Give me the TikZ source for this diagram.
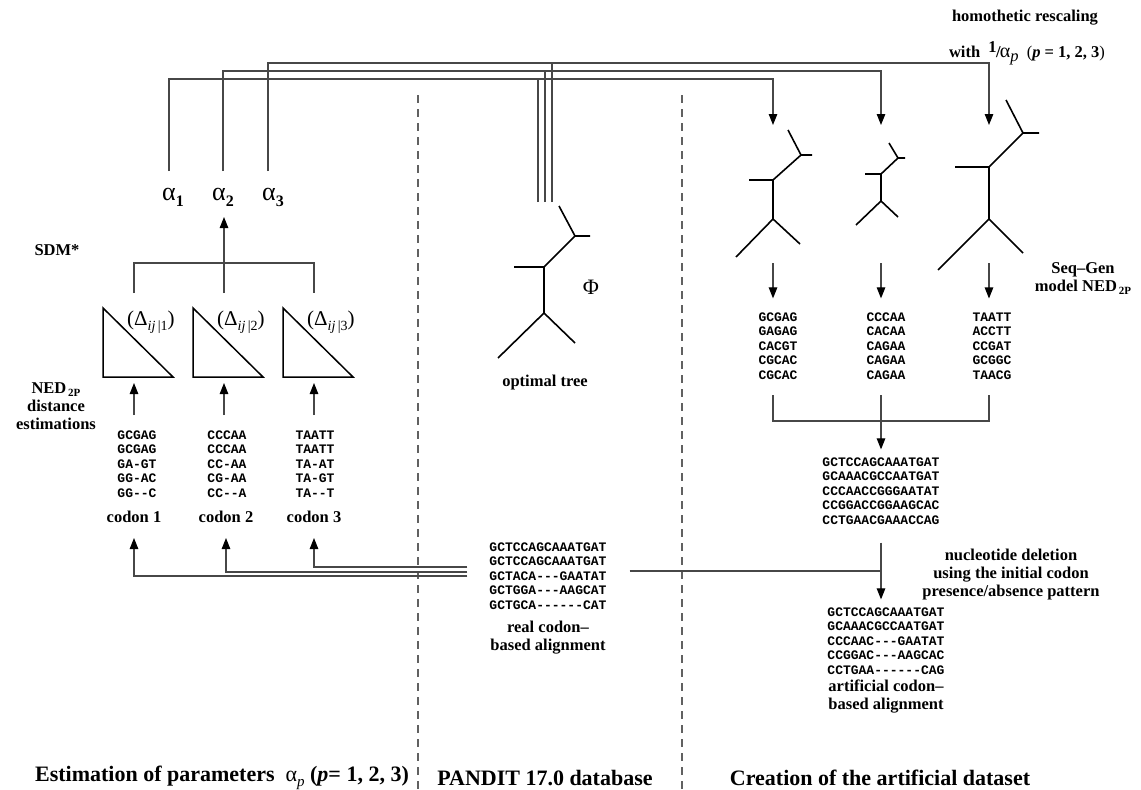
\documentclass[tikz,border=0pt]{standalone}
\usepackage{fontspec}
\setmainfont{Liberation Serif}
\setmonofont{Liberation Mono}
\usetikzlibrary{arrows.meta}

\newcommand{\alphalab}[1]{α\raisebox{-6pt}{\fontsize{16}{16}\selectfont\bfseries #1}}
\newcommand{\deltalab}[1]{(Δ\raisebox{-5pt}{\fontsize{14}{14}\selectfont\itshape ij\,\upshape|#1})}
\newcommand{\subtwop}{\raisebox{-3pt}{\fontsize{11}{11}\selectfont\,2P}}

\begin{document}
\begin{tikzpicture}[x=1pt, y=-1pt,
    conn/.style={draw=black!72, line width=1.1pt},
    arr/.style={conn, -{Triangle[length=11pt, width=8.5pt, color=black]}},
    branch/.style={line width=1.6pt},
    tri/.style={line width=1.5pt, line join=miter},
    sep/.style={draw=black!62, line width=1.1pt, dash pattern=on 8pt off 6pt},
    lbl/.style={font=\fontsize{16.5}{18}\selectfont\bfseries, align=center, inner sep=0pt},
    big/.style={font=\fontsize{22}{25}\selectfont\bfseries, inner sep=0pt},
    seq/.style={font=\fontsize{13}{14.5}\selectfont\ttfamily\bfseries, align=left, inner sep=0pt},
    alab/.style={font=\fontsize{26}{26}\selectfont, anchor=base west, inner sep=0pt},
    dlab/.style={font=\fontsize{21}{21}\selectfont, anchor=base west, inner sep=0pt},
  ]
  \useasboundingbox (0,0) rectangle (1141,790);

  % Column x-positions
  \def\cA{134}  % codon 1
  \def\cB{224}  % codon 2
  \def\cC{314}  % codon 3
  \def\tA{773}  % tree rescaled by alpha 1
  \def\tB{881}  % tree rescaled by alpha 2
  \def\tC{989}  % tree rescaled by alpha 3

  % ===== Separators =====
  \draw[sep] (418,95) -- (418,790);
  \draw[sep] (682,95) -- (682,790);

  % ===== Parameters alpha_p =====
  \node[alab] (a1) at (162,200) {\alphalab{1}};
  \node[alab] (a2) at (212,200) {\alphalab{2}};
  \node[alab] (a3) at (262,200) {\alphalab{3}};
  \coordinate (a1top) at (169,171);
  \coordinate (a2top) at (223,171);
  \coordinate (a3top) at (268,171);

  \node[lbl] (sdm) at (57,250) {SDM*};
  \draw[conn] (\cA,293) -- (\cA,263) -- (\cC,263) -- (\cC,293);
  \draw[arr] (\cB,293) -- (\cB,217);

  % ===== Distance matrices per codon position =====
  \foreach \x/\i in {\cA/1,\cB/2,\cC/3} {
    \draw[tri] (\x-31,308) -- (\x-31,377) -- (\x+39,377) -- cycle;
    \node[dlab] (d\i) at (\x-7,325) {\deltalab{\i}};
    \draw[arr] (\x,415) -- (\x,383);
  }
  \node[lbl] (ned) at (56,406) {NED\subtwop\\distance\\estimations};

  % codon position sub-alignments
  \node[seq] (s1) at (\cA+3,464) {GCGAG\\GCGAG\\GA-GT\\GG-AC\\GG--C};
  \node[seq] (s2) at (\cB+3,464) {CCCAA\\CCCAA\\CC-AA\\CG-AA\\CC--A};
  \node[seq] (s3) at (\cC+1,464) {TAATT\\TAATT\\TA-AT\\TA-GT\\TA--T};
  \node[lbl] (k1) at (\cA,517) {codon 1};
  \node[lbl] (k2) at (\cB+2,517) {codon 2};
  \node[lbl] (k3) at (\cC,517) {codon 3};

  % ===== PANDIT: real alignment and optimal tree =====
  \node[seq] (ral) at (548,576) {GCTCCAGCAAATGAT\\GCTCCAGCAAATGAT\\GCTACA---GAATAT\\GCTGGA---AAGCAT\\GCTGCA------CAT};
  \node[lbl] (rlab) at (548,638) {real codon–\\based alignment};
  \coordinate (rin) at ([xshift=-22pt,yshift=4pt]ral.west);
  \coordinate (rout) at ([xshift=23pt,yshift=5pt]ral.east);
  \draw[arr] ([yshift=5pt]rin) -| ([yshift=-15pt]k3.south);
  \draw[arr] (rin) -| ([yshift=-15pt]k2.south);
  \draw[arr] ([yshift=-4pt]rin) -| ([yshift=-15pt]k1.south);

  % optimal tree Phi
  \draw[branch] (559,206) -- (575,236) -- (590,236);
  \draw[branch] (575,236) -- (544,267) -- (544,313);
  \draw[branch] (514,267) -- (544,267);
  \draw[branch] (498,358) -- (544,313) -- (575,343);
  \coordinate (phitop) at (545,202);
  \node[font=\fontsize{22}{22}\selectfont, inner sep=0pt] (phi) at (591,287) {Φ};
  \node[lbl] (opt) at (545,383) {optimal tree};

  % ===== Homothetic rescaling =====
  \coordinate (t1in) at (\tA,125);
  \coordinate (t2in) at (\tB,125);
  \coordinate (t3in) at (\tC,125);
  \draw[arr] (a1top) -- ++(0,-92) -| (t1in);
  \draw[arr] (a2top) -- ++(0,-100) -| (t2in);
  \draw[arr] (a3top) -- ++(0,-108) -| (t3in);
  \draw[conn] ([xshift=-7pt]phitop) -- ++(0,-123);
  \draw[conn] (phitop) -- ++(0,-131);
  \draw[conn] ([xshift=7pt]phitop) -- ++(0,-139);
  \node[lbl] (homo) at (1025,18) {homothetic rescaling};
  \node[lbl] (with) at (1027,53) {with\enspace\raisebox{5pt}{1}\kern-0.5pt/\kern-1pt{\fontsize{20}{20}\selectfont\mdseries α}\raisebox{-4pt}{\mdseries\itshape p}\enspace{\mdseries(}\textit{p} = 1, 2, 3{\mdseries)}};

  % ===== Rescaled trees =====
  % tree alpha 1
  \draw[branch] (788,130) -- (801,155) -- (812,155);
  \draw[branch] (801,155) -- (\tA,180) -- (\tA,219);
  \draw[branch] (749,180) -- (\tA,180);
  \draw[branch] (736,257) -- (\tA,219) -- (800,244);
  % tree alpha 2
  \draw[branch] (889,143) -- (898,158) -- (905,158);
  \draw[branch] (898,158) -- (\tB,174) -- (\tB,201);
  \draw[branch] (865,174) -- (\tB,174);
  \draw[branch] (856,225) -- (\tB,201) -- (898,217);
  % tree alpha 3
  \draw[branch] (1006,100) -- (1023,133) -- (1039,133);
  \draw[branch] (1023,133) -- (\tC,167) -- (\tC,219);
  \draw[branch] (955,167) -- (\tC,167);
  \draw[branch] (938,270) -- (\tC,219) -- (1023,253);

  % ===== Simulated sequences =====
  \node[seq] (q1) at (\tA+5,346) {GCGAG\\GAGAG\\CACGT\\CGCAC\\CGCAC};
  \node[seq] (q2) at (\tB+5,346) {CCCAA\\CACAA\\CAGAA\\CAGAA\\CAGAA};
  \node[seq] (q3) at (\tC+3,346) {TAATT\\ACCTT\\CCGAT\\GCGGC\\TAACG};
  \draw[arr, shorten >=14pt] (\tA,263) -- (q1.north -| \tA,0);
  \draw[arr, shorten >=14pt] (\tB,263) -- (q2.north -| \tB,0);
  \draw[arr, shorten >=14pt] (\tC,263) -- (q3.north -| \tC,0);
  \node[lbl] (sg) at (1083,279) {Seq–Gen\\model NED\subtwop};

  % concatenated alignment
  \node[seq] (art1) at (\tB,491) {GCTCCAGCAAATGAT\\GCAAACGCCAATGAT\\CCCAACCGGGAATAT\\CCGGACCGGAAGCAC\\CCTGAACGAAACCAG};
  \draw[conn] (\tA,395) -- (\tA,421) -- (\tC,421) -- (\tC,395);
  \draw[arr, shorten >=8pt] (\tB,395) -- (art1.north -| \tB,0);

  % deletion following the real alignment
  \node[seq] (art2) at (\tB+5,641) {GCTCCAGCAAATGAT\\GCAAACGCCAATGAT\\CCCAAC---GAATAT\\CCGGAC---AAGCAC\\CCTGAA------CAG};
  \node[lbl] (alab) at (\tB+5,697) {artificial codon–\\based alignment};
  \draw[arr] ([yshift=-18pt]art1.south) -- ([yshift=8pt]art2.north -| art1.south);
  \draw[conn] (rout) -- (rout -| art1.south);
  \node[lbl] (del) at (1011,575) {nucleotide deletion\\using the initial codon\\presence/absence pattern};

  % ===== Panel titles =====
  \node[big] (t1) at (222,778) {Estimation of parameters\enspace{\mdseries α\raisebox{-5pt}{\fontsize{15}{15}\selectfont\itshape p}}\ (\textit{p}= 1, 2, 3)};
  \node[big] (t2) at (545,778) {PANDIT 17.0 database};
  \node[big] (t3) at (880,778) {Creation of the artificial dataset};
\end{tikzpicture}
\end{document}
